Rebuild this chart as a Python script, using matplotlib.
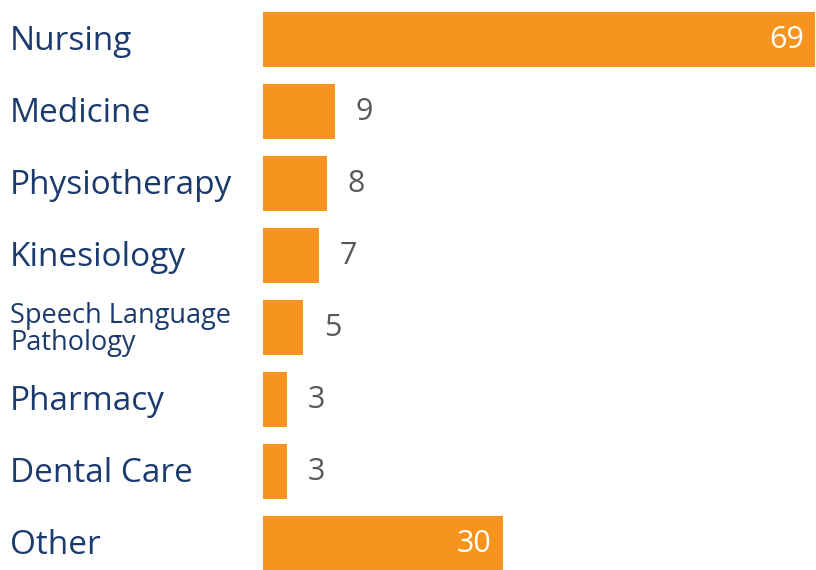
import matplotlib
matplotlib.use("Agg")
import matplotlib.pyplot as plt
import matplotlib.transforms as mtransforms

# data
categories = ["Nursing", "Medicine", "Physiotherapy", "Kinesiology",
              "Speech Language\nPathology", "Pharmacy", "Dental Care", "Other"]
values = [69, 9, 8, 7, 5, 3, 3, 30]

BAR_COLOR = "#F7941D"
LABEL_COLOR = "#1B3A6E"
VALUE_COLOR = "#595959"

plt.rcParams["font.family"] = ["Open Sans", "DejaVu Sans"]

fig = plt.figure(figsize=(8.16, 5.70), dpi=100)
ax = fig.add_axes([263 / 816, 0, 553 / 816, 1])

ypos = list(range(len(categories)))
ax.barh(ypos, values, height=0.764, color=BAR_COLOR, linewidth=0)
ax.set_xlim(0, 69 * 553 / 552)
ax.set_ylim(7 + 26.5 / 72, -39.5 / 72)
ax.axis("off")

# category labels on the left edge of the figure
trans = mtransforms.blended_transform_factory(fig.transFigure, ax.transData)
for y, cat in zip(ypos, categories):
    size = 19.5 if "\n" in cat else 24
    ax.text(10 / 816, y + 0.03, cat, transform=trans, ha="left", va="center",
            fontsize=size, color=LABEL_COLOR, linespacing=0.95)

# value labels: inside for the long bars, outside otherwise
for y, v in zip(ypos, values):
    if v >= 20:
        ax.annotate(str(v), (v, y), xytext=(-8, 0), textcoords="offset points",
                    ha="right", va="center", fontsize=22, color="white")
    else:
        ax.annotate(str(v), (v, y), xytext=(15, 0), textcoords="offset points",
                    ha="left", va="center", fontsize=22, color=VALUE_COLOR)

fig.savefig("out.png", dpi=100)
